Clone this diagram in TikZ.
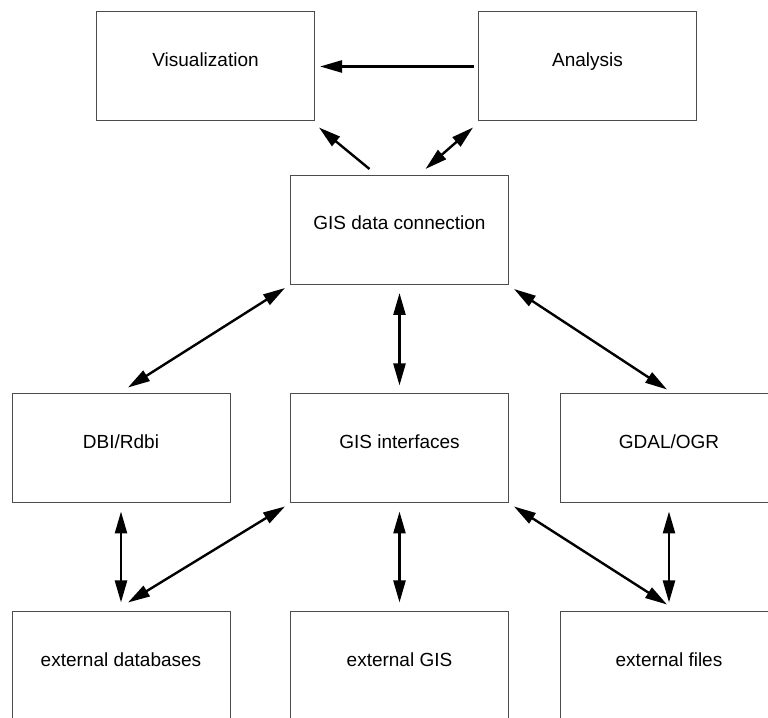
\documentclass[tikz,border=0pt]{standalone}
\usepackage{fontspec}
\setmainfont{Liberation Sans}
\usepackage{tikz}
\usetikzlibrary{arrows.meta}

\tikzset{
  box/.style={draw=black!70, line width=0.5pt, rectangle, minimum width=109pt,
    minimum height=54.5pt, inner sep=0pt, text height=8pt, text depth=8pt,
    font=\fontsize{9.5}{11}\selectfont},
  link/.style={line width=1.2pt},
  >={Triangle[length=11pt,width=6pt]}
}

\begin{document}
\begin{tikzpicture}[x=0.5pt,y=0.5pt]
    \useasboundingbox (0,0) rectangle (768,718);

    % top row
    \node[box] (vis) at (205.5,651.5) {Visualization};
    \node[box] (ana) at (587.5,651.5) {Analysis};

    % data connection
    \node[box] (gdc) at (399.5,488) {GIS data connection};

    % middle row
    \node[box] (dbi) at (121,269.5) {DBI/Rdbi};
    \node[box] (gisi) at (399.5,269.5) {GIS interfaces};
    \node[box] (gdal) at (669,269.5) {GDAL/OGR};

    % bottom row
    \node[box] (extdb) at (121,51.5) {external databases};
    \node[box] (extgis) at (399.5,51.5) {external GIS};
    \node[box] (extf) at (669,51.5) {external files};

    % arrows between the boxes
    \draw[link,->] ([xshift=-2pt]ana.west) -- ([xshift=2.5pt]vis.east);
    \draw[link,->] ([xshift=-15pt,yshift=3pt]gdc.north) -- ([xshift=2pt,yshift=-3pt]vis.south east);
    \draw[link,<->] ([xshift=13pt,yshift=3pt]gdc.north) -- ([xshift=-2.5pt,yshift=-3pt]ana.south west);

    \draw[link,<->] ([xshift=-2.5pt,yshift=-1.5pt]gdc.south west) -- ([xshift=3.5pt,yshift=3pt]dbi.north);
    \draw[link,<->] ([yshift=-4pt]gdc.south) -- ([yshift=4pt]gisi.north);
    \draw[link,<->] ([xshift=2.5pt,yshift=-2pt]gdc.south east) -- ([xshift=-1pt,yshift=2pt]gdal.north);

    \draw[link,<->] ([yshift=-4pt]dbi.south) -- ([yshift=4.5pt]extdb.north);
    \draw[link,<->] ([xshift=-2.5pt,yshift=-1.5pt]gisi.south west) -- ([xshift=3.5pt,yshift=4.5pt]extdb.north);
    \draw[link,<->] ([yshift=-4pt]gisi.south) -- ([yshift=4.5pt]extgis.north);
    \draw[link,<->] ([xshift=2.5pt,yshift=-1.5pt]gisi.south east) -- ([xshift=-1pt,yshift=3.5pt]extf.north);
    \draw[link,<->] ([yshift=-4pt]gdal.south) -- ([yshift=4.5pt]extf.north);

\end{tikzpicture}
\end{document}
